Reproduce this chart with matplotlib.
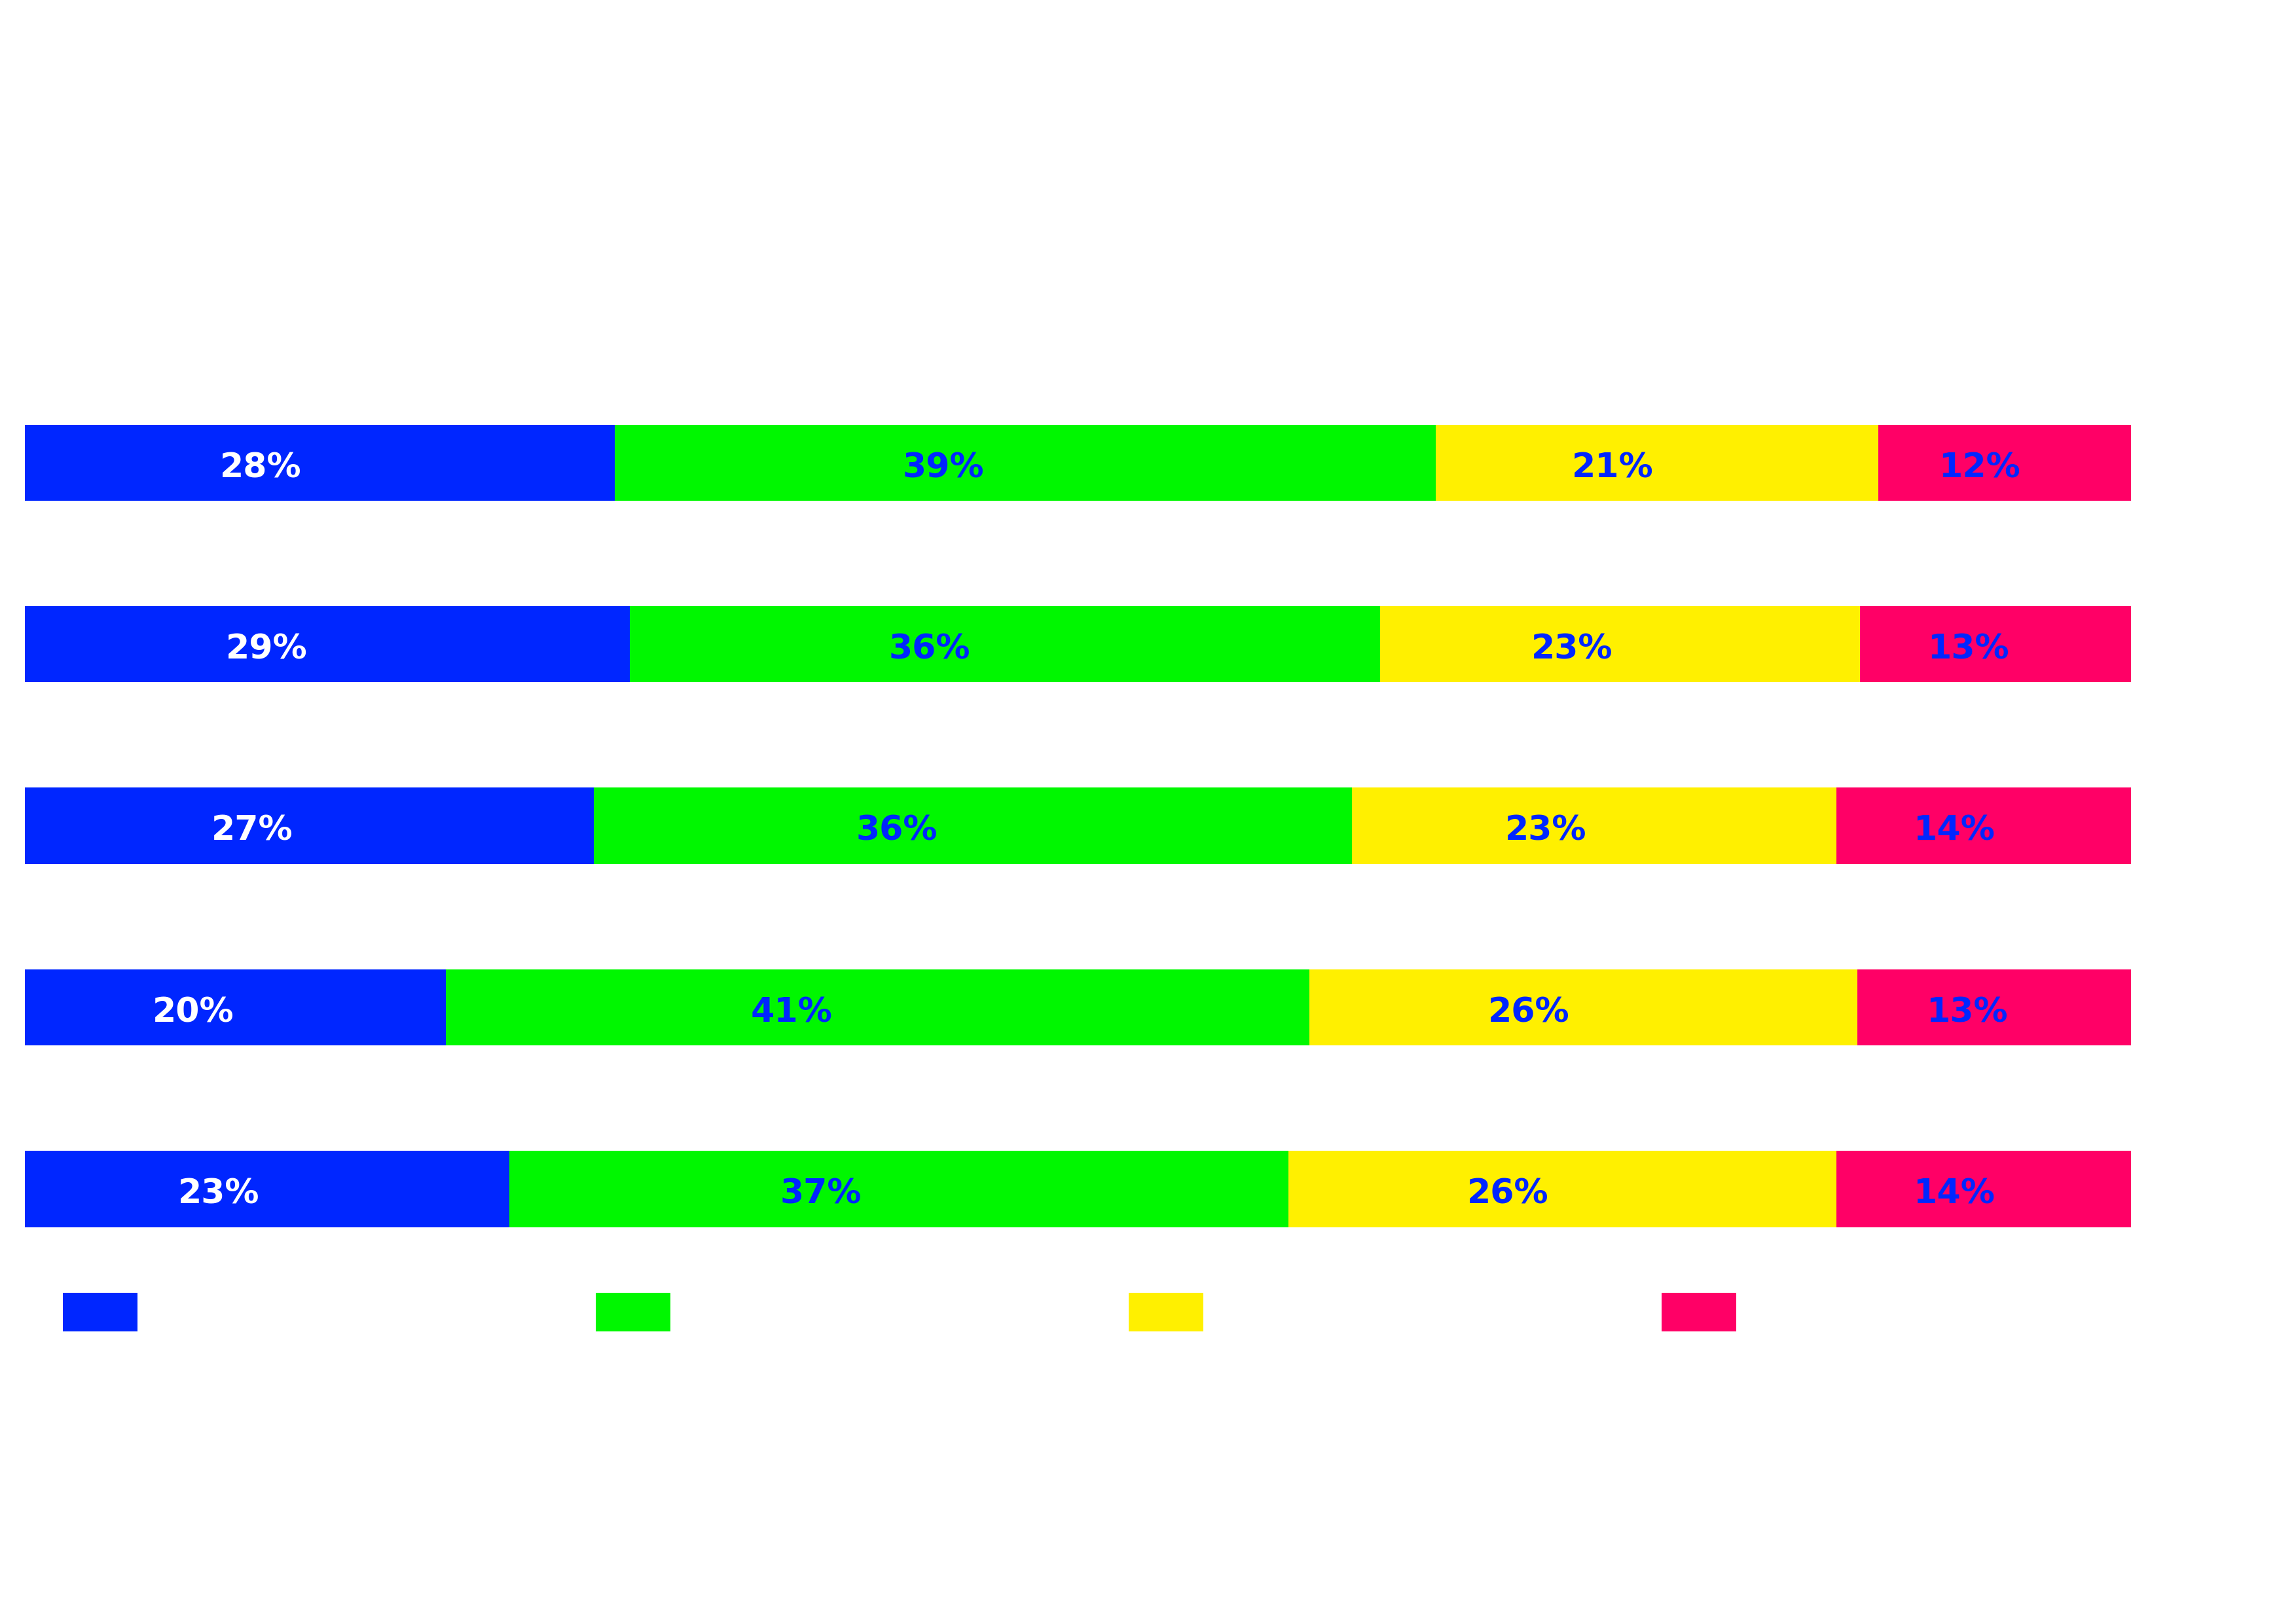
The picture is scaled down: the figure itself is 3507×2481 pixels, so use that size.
import numpy as np
import matplotlib
matplotlib.use('Agg')
import matplotlib.pyplot as plt
from matplotlib.patches import Patch

# data (top row first)
rows = ['1', '2', '3', '4', '5']
seg1 = [28, 29, 27, 20, 23]
seg2 = [39, 36, 36, 41, 37]
seg3 = [21, 23, 23, 26, 26]
seg4 = [12, 13, 14, 13, 14]

colors = ['#0026FF', '#00F700', '#FFF000', '#FF0066']
label_colors = ['white', '#0026FF', '#0026FF', '#0026FF']

fig = plt.figure(figsize=(11.693, 8.27), dpi=300)
ax = fig.add_axes([0.0108, 0.212, 0.9171, 0.559])

data = np.array([seg1, seg2, seg3, seg4], dtype=float)
# bars all end at the same point, so scale each row to 100
data = data / data.sum(axis=0) * 100
ypos = np.arange(len(rows))

left = np.zeros(len(rows))
for i in range(4):
    ax.barh(ypos, data[i], left=left, height=0.42, color=colors[i], edgecolor='none')
    raw = [seg1, seg2, seg3, seg4][i]
    for j in range(len(rows)):
        ax.text(left[j] + data[i][j] * 0.4, ypos[j] + 0.03, f'{raw[j]}%',
                ha='center', va='center', fontsize=12.5, fontweight='bold',
                color=label_colors[i], family='DejaVu Sans')
    left = left + data[i]

ax.set_xlim(0, 100)
ax.set_ylim(4.5, -0.5)
ax.axis('off')

#legend, only the colour boxes show
handles = [Patch(facecolor=c, edgecolor='none') for c in colors]
fig.legend(handles, ['', '', '', ''], loc='upper left',
           bbox_to_anchor=(96 / 3508, 1 - 1975 / 2481), ncol=4,
           frameon=False, fontsize=12, borderpad=0, borderaxespad=0,
           handlelength=2.28, handleheight=1.45, handletextpad=0.5,
           columnspacing=13.5)

fig.savefig('out.png', dpi=300, facecolor='white')
